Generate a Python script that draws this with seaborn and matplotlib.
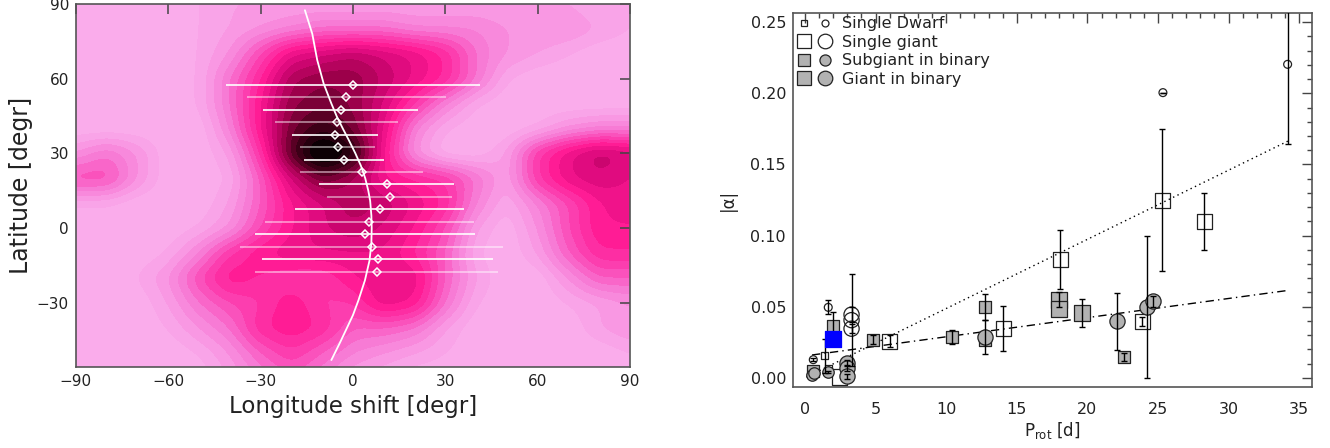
import numpy as np
import matplotlib
matplotlib.use("Agg")
import matplotlib.pyplot as plt
import seaborn as sns
from matplotlib.colors import LinearSegmentedColormap
from matplotlib.lines import Line2D
from matplotlib.legend_handler import HandlerTuple
from matplotlib.ticker import MultipleLocator, FormatStrFormatter

# ---------------- left panel: spot-pattern cross-correlation map ----------------
map_lon = np.arange(-90, 91, 10)      # longitude shift nodes [deg]
map_lat = np.arange(90, -61, -10)     # latitude nodes [deg], top to bottom
map_level = np.array([
    # -90 -80 -70 -60 -50 -40 -30 -20 -10   0  10  20  30  40  50  60  70  80  90
    [0,   0,   0,   0,  .5,  1,  1,   1,  1,  1,  1,  1,  1,  1,  1,  1,  1,  .5, .5],   # 90
    [0,   0,   0,   0,  .5,  1, 1.5,  2, 2.5,2.5,2.5, 2,  2,  2, 1.5,1.5,1.5, 1,  .5],   # 80
    [0,   0,   0,   0,  .5, 1.5,3.5,5.5, 6, 6.5, 6, 5.5,4.5,2.5,1.5, 1,  .5, 0,  0],    # 70
    [0,   0,   0,   0,  .5, 2.5,4.5, 7, 7.5, 7.5,6.5,5.5,4.5,2.5, .5, 0,  0,  0,  0],    # 60
    [0,   0,   0,   0,  .5, 2.5, 5, 7.5, 8, 7.5, 6,  4,  2,  .5,  0, 0,  0,  0,  0],    # 50
    [0,   0,   0,   0,  0,   2,  5,  8,  9,  8, 5.5, 2,  .5,  0,  0, .5, 1.5, 2,  2],   # 40
    [1.5,2.5,1.5,   0,  0,   1,  4, 8.5, 11, 9.5, 5, 1.5,  0,  0,  1,  4, 5.5,6.5, 6],  # 30
    [3.5,3.5,1.5,   0,  0,  .5,  3,  6,  8,  7,  5, 4.5, 4,  2.5, 1,  4, 5.5, 6, 5.5],  # 20
    [.5, .5,   0,   0,  0,   1, 3,  5,  6,  7, 6.5, 5.5,4.5, 2,  .5, 2, 3.5, 5,  5.5],  # 10
    [0,   0,   0,   0,  .5, 1.5,3.5, 5,  6, 6.5, 6,  5, 3.5,  1,  0, 1.5, 3.5,5, 5],   # 0
    [0,   0,   0,  .5,  2,  4,  5,  5.5,5.5,5.5,5.5,4.5, 3,  .5,  0, 1,  3, 4.5, 4.5],  # -10
    [0,   0,  .5, 1.5, 3.5, 5,  4.5, 4,  4,  5, 5.5, 5.5, 3,  1,  0,  0,  1.5, 3, 3],   # -20
    [0,   0,   0,   1, 2.5, 3.5, 4,  5,  4,  4, 5.5, 5, 2.5, .5,  0,  0, .5,  1, 1.5],  # -30
    [0,   0,   0,  .5, 1.5, 2.5, 4.5,5,  4.5,3, 3, 2.5, 1,  0,  0,  0,  0,  1, 1.5],  # -40
    [0,   0,   0,   0,  .5, 1.5, 3,  4,  3,  2, 1.5, 1,  .5,  0,  0,  0,  0,  0,  .5],  # -50
    [0,   0,   0,   0,  0,   1,  2,  3,  2,  1,  .5, 0,  0,  0,  0,  0,  0,  0,  0],   # -60
])

# differential-rotation law drawn over the map
curve_lat = [87.5, 78, 67.5, 58, 50, 45, 40, 35, 30, 25, 20, 15, 11, 5, 0, -6, -13, -21, -29, -35, -40, -46, -53]
curve_lon = [-15.6, -13.2, -11.6, -9.5, -7.0, -5.3, -3.3, -1.2, 0.8, 2.6, 4.0, 5.0, 5.6, 6.0, 6.1, 6.0, 5.4, 3.9, 1.8, 0.0, -1.9, -4.2, -7.0]

# correlation maxima per latitude strip with their widths
row_lat = [57.5, 52.5, 47.5, 42.5, 37.5, 32.5, 27.5, 22.5, 17.5, 12.5, 7.5, 2.5, -2.5, -7.5, -12.5, -17.5]
row_lon = [0.0, -2.1, -3.9, -5.3, -5.7, -4.9, -2.8, 2.8, 11.0, 11.9, 8.7, 5.3, 4.0, 6.1, 8.0, 7.8]
row_halfwidth = [41.3, 32.4, 25.2, 20.0, 14.0, 12.2, 13.0, 20.0, 22.0, 20.4, 27.4, 34.0, 35.8, 42.8, 37.5, 39.5]

# ---------------- right panel: |alpha| versus rotation period ----------------
dwarf_sq_P = [1.41, 1.65]
dwarf_sq_a = [0.0155, 0.0068]
dwarf_sq_e = [0.012, np.nan]
dwarf_ci_P = [0.45, 0.59, 1.65, 25.35, 34.18]
dwarf_ci_a = [0.0015, 0.0127, 0.0495, 0.2005, 0.2204]
dwarf_ci_e = [np.nan, 0.001, 0.005, 0.0, 0.056]

giant_sq_P = [2.43, 6.0, 14.04, 18.08, 23.9, 25.3, 28.29]
giant_sq_a = [0.0005, 0.0256, 0.0345, 0.0831, 0.0397, 0.1249, 0.110]
giant_sq_e = [np.nan, 0.0043, 0.016, 0.021, 0.003, 0.05, 0.02]
giant_ci_P = [3.3, 3.3, 3.3]
giant_ci_a = [0.0444, 0.0405, 0.0345]
giant_ci_e = [0.005, 0.0325, 0.003]

subbin_sq_P = [0.55, 2.0, 4.83, 10.43, 12.78, 12.78, 22.56]
subbin_sq_a = [0.0045, 0.0366, 0.0268, 0.0287, 0.0498, 0.0263, 0.0146]
subbin_sq_e = [np.nan, 0.0095, 0.003, 0.005, 0.009, np.nan, 0.003]
subbin_ci_P = [0.5, 0.62, 1.65]
subbin_ci_a = [0.002, 0.0035, 0.004]
subbin_ci_e = [np.nan, np.nan, 0.001]

gbin_sq_P = [18.0, 18.0, 19.6]
gbin_sq_a = [0.055, 0.048, 0.0455]
gbin_sq_e = [0.005, np.nan, 0.01]
gbin_ci_P = [3.0, 3.0, 3.0, 12.78, 22.1, 24.2, 24.63]
gbin_ci_a = [0.0103, 0.0068, 0.0009, 0.0287, 0.0397, 0.0498, 0.0537]
gbin_ci_e = [0.002, 0.002, 0.002, 0.012, 0.02, 0.05, 0.004]

special_P = [2.0]
special_a = [0.0272]

fit_single_P = [0.1, 34.2]
fit_single_a = [0.0005, 0.1664]
fit_binary_P = [0.5, 34.2]
fit_binary_a = [0.0160, 0.0614]

legend_labels = ["Single Dwarf", "Single giant", "Subgiant in binary", "Giant in binary"]

# ---------------- drawing ----------------
sns.set_theme(style="white")
plt.rcParams['font.family'] = ['DejaVu Sans']
plt.rcParams['axes.unicode_minus'] = True

fig = plt.figure(figsize=(13.3, 4.48), dpi=100)
axL = fig.add_axes([0.0571, 0.1808, 0.4165, 0.8103])
axR = fig.add_axes([0.5962, 0.1362, 0.3902, 0.8348])

txt = '#222222'
frame = '#444444'

# smooth the node grid onto a fine mesh
lat_asc = map_lat[::-1]
z_asc = map_level[::-1]
fine_lon = np.linspace(-90, 90, 361)
fine_lat = np.linspace(-60, 90, 301)
zx = np.array([np.interp(fine_lon, map_lon, r) for r in z_asc])
zf = np.array([np.interp(fine_lat, lat_asc, c) for c in zx.T]).T


def blur(a, sigma, axis):
    r = int(3 * sigma)
    t = np.arange(-r, r + 1)
    k = np.exp(-0.5 * (t / sigma) ** 2)
    k /= k.sum()
    pad = [(0, 0), (0, 0)]
    pad[axis] = (r, r)
    ap = np.pad(a, pad, mode='edge')
    return np.apply_along_axis(lambda v: np.convolve(v, k, mode='valid'), axis, ap)


zf = blur(blur(zf, 5, 0), 5, 1)
zf = np.clip(zf, 0, None)

pink = LinearSegmentedColormap.from_list('spot', [
    (0.00, '#fab0ec'), (0.10, '#f9a0e6'), (0.22, '#f77cd6'), (0.36, '#fb44b4'),
    (0.48, '#ff1a93'), (0.60, '#d8077a'), (0.72, '#a0004c'), (0.85, '#4a001c'),
    (1.00, '#000000')])
levels = np.linspace(0, zf.max() * 1.0001, 21)
levels[0] = -0.01
cs = axL.contourf(fine_lon, fine_lat, zf, levels=levels, cmap=pink, zorder=0)
cs.set_edgecolor('face')
cs.set_linewidth(0.6)

sns.lineplot(x=curve_lon, y=curve_lat, sort=False, estimator=None, ax=axL,
             color='white', lw=1.3, zorder=5)

for i in range(len(row_lat)):
    a = 1.0 if i % 2 == 0 else 0.55
    axL.errorbar(row_lon[i], row_lat[i], xerr=row_halfwidth[i], fmt='none',
                 ecolor='white', elinewidth=1.2, alpha=a, capsize=0, zorder=4)
axL.plot(row_lon, row_lat, ls='', marker='D', ms=3.8, mfc='none', mec='white',
         mew=1.1, zorder=6)

axL.set_xlim(-90, 90)
axL.set_ylim(-55.8, 90)
axL.set_xticks(np.arange(-90, 91, 30))
axL.set_yticks([-30, 0, 30, 60, 90])
axL.tick_params(direction='in', top=True, right=True, length=7, width=1.1,
                color=frame, labelsize=11, labelcolor=txt, pad=5)
for s in axL.spines.values():
    s.set_color('#555555')
    s.set_linewidth(1.2)
    s.set_zorder(10)
axL.set_xlabel('Longitude shift [degr]', fontsize=16.5, color=txt, labelpad=4)
axL.set_ylabel('Latitude [degr]', fontsize=17, color=txt, labelpad=3)

# right panel
edge = '#222222'
gray = '#b2b2b2'
groups = [
    (dwarf_sq_P, dwarf_sq_a, 's', 26, 'none'),
    (dwarf_ci_P, dwarf_ci_a, 'o', 32, 'none'),
    (giant_sq_P, giant_sq_a, 's', 120, 'none'),
    (giant_ci_P, giant_ci_a, 'o', 120, 'none'),
    (subbin_sq_P, subbin_sq_a, 's', 68, gray),
    (subbin_ci_P, subbin_ci_a, 'o', 68, gray),
    (gbin_sq_P, gbin_sq_a, 's', 120, gray),
    (gbin_ci_P, gbin_ci_a, 'o', 120, gray),
]
for P, a, m, s, fc in groups:
    sns.scatterplot(x=P, y=a, marker=m, s=s, facecolor=fc, edgecolor=edge,
                    linewidth=0.9, ax=axR, zorder=3, legend=False)
sns.scatterplot(x=special_P, y=special_a, marker='s', s=130, color='#0000ff',
                edgecolor='#0000ff', ax=axR, zorder=5, legend=False)

for P, a, e in [(dwarf_sq_P, dwarf_sq_a, dwarf_sq_e), (dwarf_ci_P, dwarf_ci_a, dwarf_ci_e),
                (giant_sq_P, giant_sq_a, giant_sq_e), (giant_ci_P, giant_ci_a, giant_ci_e),
                (subbin_sq_P, subbin_sq_a, subbin_sq_e), (subbin_ci_P, subbin_ci_a, subbin_ci_e),
                (gbin_sq_P, gbin_sq_a, gbin_sq_e), (gbin_ci_P, gbin_ci_a, gbin_ci_e)]:
    axR.errorbar(P, a, yerr=e, fmt='none', ecolor='black', elinewidth=1.0,
                 capsize=2.5, capthick=1.0, zorder=4)

sns.lineplot(x=fit_single_P, y=fit_single_a, ax=axR, color='black', lw=1.0,
             linestyle=(0, (1, 2.5)), zorder=2)
sns.lineplot(x=fit_binary_P, y=fit_binary_a, ax=axR, color='black', lw=1.0,
             linestyle=(0, (6, 3, 1, 3)), zorder=2)

axR.set_xlim(-0.85, 35.9)
axR.set_ylim(-0.0065, 0.2565)
axR.xaxis.set_major_locator(MultipleLocator(5))
axR.xaxis.set_minor_locator(MultipleLocator(1))
axR.yaxis.set_major_locator(MultipleLocator(0.05))
axR.yaxis.set_minor_locator(MultipleLocator(0.01))
axR.yaxis.set_major_formatter(FormatStrFormatter('%.2f'))
axR.tick_params(which='both', direction='in', top=True, right=True, color=frame,
                labelsize=11.5, labelcolor=txt)
axR.tick_params(which='major', length=7, width=1)
axR.tick_params(which='minor', length=3.5, width=1)
axR.tick_params(axis='x', which='major', pad=11)
axR.tick_params(axis='y', which='major', pad=5)
for s in axR.spines.values():
    s.set_color('#555555')
    s.set_linewidth(1.2)
axR.set_xlabel(r'P$_{\mathregular{rot}}$ [d]', fontsize=12, color=txt, labelpad=2)
axR.set_ylabel('|α|', fontsize=12, color=txt, labelpad=10)


def pair(ms, fc):
    return (Line2D([], [], ls='', marker='s', ms=ms, mfc=fc, mec=edge, mew=0.9),
            Line2D([], [], ls='', marker='o', ms=ms, mfc=fc, mec=edge, mew=0.9))


handles = [pair(5, 'none'), pair(10.5, 'none'), pair(8, gray), pair(10.5, gray)]
axR.legend(handles, legend_labels, handler_map={tuple: HandlerTuple(ndivide=None, pad=0.4)},
           loc='upper left', bbox_to_anchor=(0.0, 1.0), frameon=False, fontsize=11.5,
           labelspacing=0.22, handlelength=2.3, handletextpad=0.6, borderaxespad=0.15,
           borderpad=0.05, labelcolor=txt)

fig.savefig('out.png', dpi=100, facecolor='white')
